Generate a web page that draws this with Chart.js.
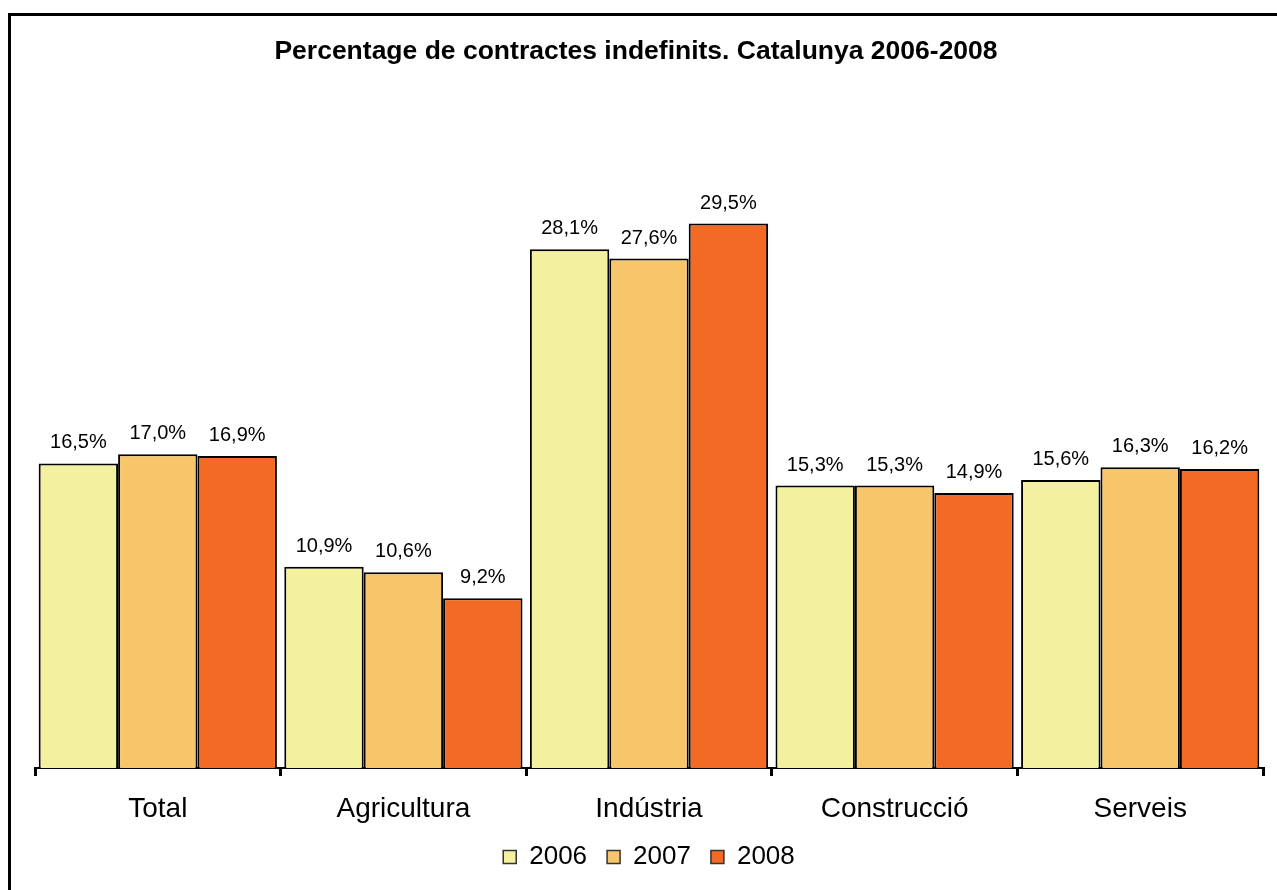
<!DOCTYPE html>
<html>
<head>
<meta charset="utf-8">
<script src="https://cdn.jsdelivr.net/npm/chart.js@4.4.1/dist/chart.umd.min.js"></script>
<style>
  html, body { margin: 0; padding: 0; background: #fff; overflow: hidden; }
  #frame { position: absolute; left: 8px; top: 13px; width: 1300px; height: 920px; border: 3px solid #000; box-sizing: border-box; }
  #wrap { position: absolute; left: 0; top: 0; width: 1277px; height: 890px; }
</style>
</head>
<body>
<div id="frame"></div>
<div id="wrap"><canvas id="c" width="1277" height="890"></canvas></div>
<script>
const categories = ['Total', 'Agricultura', 'Indústria', 'Construcció', 'Serveis'];
const seriesNames = ['2006', '2007', '2008'];
const values2006 = [16.5, 10.9, 28.1, 15.3, 15.6];
const values2007 = [17.0, 10.6, 27.6, 15.3, 16.3];
const values2008 = [16.9, 9.2, 29.5, 14.9, 16.2];
const colors = ['#F3F0A0', '#F7C66B', '#F26A23'];
const titleText = 'Percentage de contractes indefinits. Catalunya 2006-2008';

const FONT = '"Liberation Sans", Arial, sans-serif';
const fmt = v => v.toFixed(1).replace('.', ',') + '%';

const labelPlugin = {
  id: 'barLabels',
  afterDatasetsDraw(chart) {
    const ctx = chart.ctx;
    ctx.save();
    ctx.font = '20px ' + FONT;
    ctx.fillStyle = '#000';
    ctx.textAlign = 'center';
    ctx.textBaseline = 'alphabetic';
    chart.data.datasets.forEach((ds, i) => {
      chart.getDatasetMeta(i).data.forEach((bar, j) => {
        ctx.fillText(fmt(ds.data[j]), bar.x, bar.y - 15);
      });
    });
    ctx.restore();
  }
};

const titlePlugin = {
  id: 'pageTitle',
  afterDraw(chart) {
    const ctx = chart.ctx;
    ctx.save();
    ctx.font = 'bold 26.5px ' + FONT;
    ctx.fillStyle = '#000';
    ctx.textAlign = 'center';
    ctx.textBaseline = 'middle';
    ctx.fillText(titleText, 636, 52);
    ctx.restore();
  }
};

new Chart(document.getElementById('c'), {
  type: 'bar',
  data: {
    labels: categories,
    datasets: [
      { label: seriesNames[0], data: values2006, backgroundColor: colors[0] },
      { label: seriesNames[1], data: values2007, backgroundColor: colors[1] },
      { label: seriesNames[2], data: values2008, backgroundColor: colors[2] }
    ].map(d => Object.assign(d, { borderColor: '#000', borderWidth: 2, categoryPercentage: 0.97, barPercentage: 1.0 }))
  },
  options: {
    responsive: false,
    animation: false,
    layout: { padding: { left: 35, right: 14, top: 122, bottom: 10 } },
    plugins: {
      title: { display: false },
      legend: {
        position: 'bottom',
        labels: {
          color: '#000',
          font: { family: FONT, size: 26 },
          boxWidth: 13,
          boxHeight: 13,
          padding: 20,
          generateLabels(chart) {
            return chart.data.datasets.map((ds, i) => ({
              text: ds.label, fillStyle: ds.backgroundColor, strokeStyle: '#333', lineWidth: 1.5, datasetIndex: i, hidden: false
            }));
          }
        }
      },
      tooltip: { enabled: false }
    },
    scales: {
      x: {
        afterFit(scale) { scale.height = 56; },
        grid: { offset: true, drawOnChartArea: false, drawTicks: true, tickLength: 8, color: '#000', lineWidth: 3 },
        border: { display: true, color: '#000', width: 2 },
        ticks: { color: '#000', font: { family: FONT, size: 28 }, padding: 16 }
      },
      y: {
        display: false,
        min: 0,
        max: 35
      }
    }
  },
  plugins: [labelPlugin, titlePlugin]
});
</script>
</body>
</html>
